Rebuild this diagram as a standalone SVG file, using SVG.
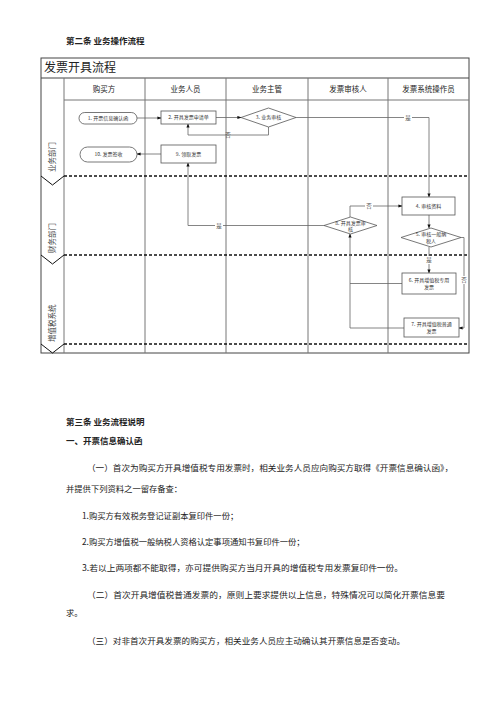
<svg xmlns="http://www.w3.org/2000/svg" width="500" height="708" viewBox="0 0 500 708">
<defs>
<style>
.t{font-family:"Noto Sans CJK SC","Liberation Serif",serif;fill:#222}
.h{font-size:8.5px;font-weight:bold}
.p{font-size:8.3px}
.lane{font-size:7.5px;fill:#444}
.n{font-size:5px;fill:#333;text-anchor:middle}
.lbl{font-size:5.5px;fill:#555;text-anchor:middle}
.box{fill:#fff;stroke:#555;stroke-width:0.8}
.grid{stroke:#777;stroke-width:1;fill:none}
.dash{stroke:#111;stroke-width:1.3;stroke-dasharray:3 2;fill:none}
.c{stroke:#666;stroke-width:0.8;fill:none}
.ca{stroke:#666;stroke-width:0.8;fill:none;marker-end:url(#arr)}
</style>
<marker id="arr" viewBox="0 0 10 10" refX="9" refY="5" markerWidth="5" markerHeight="5" orient="auto">
<path d="M0,1 L10,5 L0,9 z" fill="#111"/>
</marker>
</defs>
<rect width="500" height="708" fill="#fff"/>

<text class="t h" x="66" y="44">第二条  业务操作流程</text>

<g id="frame">
<rect x="41" y="58" width="428" height="295" fill="none" stroke="#444" stroke-width="1"/>
<line x1="41" y1="78" x2="469" y2="78" stroke="#444" stroke-width="1"/>
<line x1="64" y1="100" x2="469" y2="100" class="grid"/>
<line x1="64" y1="78" x2="64" y2="353" class="grid"/>
<line x1="145" y1="78" x2="145" y2="353" class="grid"/>
<line x1="226" y1="78" x2="226" y2="353" class="grid"/>
<line x1="308" y1="78" x2="308" y2="353" class="grid"/>
<line x1="388" y1="78" x2="388" y2="353" class="grid"/>
<line x1="64" y1="176" x2="469" y2="176" class="dash"/>
<line x1="64" y1="255" x2="469" y2="255" class="dash"/>
<line x1="64" y1="344" x2="469" y2="344" class="dash"/>
<polyline points="41,176 52.5,185 64,176" fill="none" stroke="#111" stroke-width="1"/>
<polyline points="41,255 52.5,264 64,255" fill="none" stroke="#111" stroke-width="1"/>
<polyline points="41,344 52.5,353 64,344" fill="none" stroke="#111" stroke-width="1"/>
<text class="t" x="44" y="72" font-size="12" fill="#333">发票开具流程</text>
<text class="t" x="104" y="92" font-size="7.5" fill="#444" text-anchor="middle">购买方</text>
<text class="t" x="185.5" y="92" font-size="7.5" fill="#444" text-anchor="middle">业务人员</text>
<text class="t" x="267" y="92" font-size="7.5" fill="#444" text-anchor="middle">业务主管</text>
<text class="t" x="348" y="92" font-size="7.5" fill="#444" text-anchor="middle">发票审核人</text>
<text class="t" x="428.5" y="92" font-size="7.5" fill="#444" text-anchor="middle">发票系统操作员</text>
<text class="t lane" transform="translate(55,172) rotate(-90)">业务部门</text>
<text class="t lane" transform="translate(55,253) rotate(-90)">财务部门</text>
<text class="t lane" transform="translate(55,342) rotate(-90)">增值税系统</text>
</g>

<g id="connectors">
<line x1="137" y1="118" x2="161" y2="118" class="ca"/>
<line x1="216" y1="117.5" x2="241" y2="117.5" class="ca"/>
<polyline points="268.5,127 268.5,135 188,135 188,124" class="ca"/>
<text class="t lbl" x="228" y="137">否</text>
<polyline points="296,117.5 429,117.5 429,197" class="ca"/>
<rect x="404" y="113" width="8" height="8" fill="#fff"/>
<text class="t lbl" x="408" y="119.5">是</text>
<line x1="429" y1="215" x2="429" y2="228" class="ca"/>
<line x1="429" y1="247" x2="429" y2="273" class="ca"/>
<rect x="425" y="256" width="8" height="8" fill="#fff"/>
<text class="t lbl" x="429" y="262">是</text>
<polyline points="461,237.5 464,237.5 464,328 459,328" class="ca"/>
<rect x="460" y="276" width="8" height="8" fill="#fff"/>
<text class="t lbl" x="464" y="282">否</text>
<polyline points="402,283.5 350,283.5" class="c"/>
<polyline points="404,328 350,328 350,234" class="ca"/>
<polyline points="350,217 350,206 402,206" class="ca"/>
<rect x="365" y="202" width="8" height="8" fill="#fff"/>
<text class="t lbl" x="369" y="208">否</text>
<polyline points="324,225.5 188,225.5 188,163" class="ca"/>
<rect x="215" y="221.5" width="8" height="8" fill="#fff"/>
<text class="t lbl" x="219" y="227.5">是</text>
<line x1="161" y1="154" x2="137" y2="154" class="ca"/>
</g>

<g id="n1"><rect class="box" x="79" y="112.5" width="58" height="11.5" rx="5.75"/><text class="t n" x="108" y="120">1. 开票信息确认函</text></g>
<g id="n2"><rect class="box" x="161" y="111" width="55" height="13"/><text class="t n" x="188.5" y="119.3">2. 开具发票申请单</text></g>
<g id="n3"><polygon class="box" points="241,117.5 268.5,108 296,117.5 268.5,127"/><text class="t n" x="268.5" y="119.3">3. 业务审核</text></g>
<g id="n4"><rect class="box" x="402" y="197" width="53" height="18"/><text class="t n" x="428.5" y="207.8">4. 审核资料</text></g>
<g id="n5"><polygon class="box" points="401,237.5 431,228 461,237.5 431,247"/><text class="t n" x="431" y="236">5. 审核一般纳</text><text class="t n" x="431" y="242.5">税人</text></g>
<g id="n6"><rect class="box" x="402" y="273" width="54" height="21"/><text class="t n" x="429" y="282">6. 开具增值税专用</text><text class="t n" x="429" y="289">发票</text></g>
<g id="n7"><rect class="box" x="404" y="318" width="55" height="19"/><text class="t n" x="431.5" y="326">7. 开具增值税普通</text><text class="t n" x="431.5" y="333">发票</text></g>
<g id="n8"><polygon class="box" points="324,225.5 350.5,217 377,225.5 350.5,234"/><text class="t n" x="350.5" y="224.5">8. 开具发票审</text><text class="t n" x="350.5" y="230.5">核</text></g>
<g id="n9"><rect class="box" x="161" y="145" width="55" height="18"/><text class="t n" x="188.5" y="155.8">9. 领取发票</text></g>
<g id="n10"><rect class="box" x="80" y="147" width="57" height="15" rx="7.5"/><text class="t n" x="108.5" y="156.3">10. 发票签收</text></g>

<g id="body">
<text class="t h" x="66" y="425">第三条  业务流程说明</text>
<text class="t h" x="66" y="444">一、开票信息确认函</text>
<text class="t p" x="87" y="471" textLength="366" lengthAdjust="spacingAndGlyphs">（一）首次为购买方开具增值税专用发票时，相关业务人员应向购买方取得《开票信息确认函》，</text>
<text class="t p" x="66" y="492">并提供下列资料之一留存备查：</text>
<text class="t p" x="82" y="519">1.购买方有效税务登记证副本复印件一份；</text>
<text class="t p" x="82" y="545">2.购买方增值税一般纳税人资格认定事项通知书复印件一份；</text>
<text class="t p" x="82" y="571" textLength="321" lengthAdjust="spacingAndGlyphs">3.若以上两项都不能取得，亦可提供购买方当月开具的增值税专用发票复印件一份。</text>
<text class="t p" x="87" y="598" textLength="358" lengthAdjust="spacingAndGlyphs">（二）首次开具增值税普通发票的，原则上要求提供以上信息，特殊情况可以简化开票信息要</text>
<text class="t p" x="66" y="616">求。</text>
<text class="t p" x="87" y="644" textLength="318" lengthAdjust="spacingAndGlyphs">（三）对非首次开具发票的购买方，相关业务人员应主动确认其开票信息是否变动。</text>
</g>
</svg>
